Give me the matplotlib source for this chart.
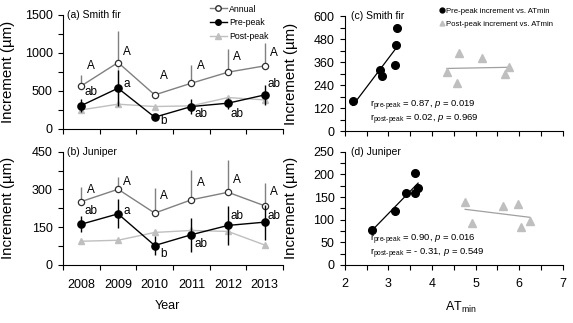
import matplotlib
matplotlib.use("Agg")
import matplotlib.pyplot as plt
from matplotlib.ticker import MultipleLocator, FixedLocator, NullFormatter
import numpy as np

plt.rcParams["font.family"] = ["Liberation Sans", "DejaVu Sans"]
plt.rcParams["mathtext.fontset"] = "custom"
plt.rcParams["mathtext.rm"] = "Liberation Sans"
plt.rcParams["mathtext.it"] = "Liberation Sans:italic"

# ── data ──────────────────────────────────────────────────────────────────────
years = ["2008", "2009", "2010", "2011", "2012", "2013"]

# (a) Smith fir
fir_annual = [566, 873, 447, 601, 746, 829]
fir_annual_up = [144, 421, 20, 241, 302, 307]
fir_pre = [307, 535, 154, 294, 338, 447]
fir_pre_err = [90, 240, 30, 100, 70, 130]
fir_post = [250, 325, 294, 303, 412, 381]
fir_post_up = [0, 540, 0, 0, 0, 0]
fir_annual_letters = ["A", "A", "A", "A", "A", "A"]
fir_annual_letter_y = [829, 1013, 697, 829, 947, 1000]
fir_pre_letters = ["ab", "a", "b", "ab", "ab", "ab"]
fir_pre_letter_y = [487, 592, 105, 197, 197, 592]

# (b) Juniper
jun_annual = [252, 301, 206, 259, 289, 235]
jun_annual_up = [57, 50, 99, 118, 128, 92]
jun_pre = [162, 203, 77, 120, 157, 170]
jun_pre_err = [33, 58, 37, 68, 78, 70]
jun_post = [94, 98, 129, 137, 133, 79]
jun_post_up = [0, 0, 0, 0, 0, 0]
jun_annual_letters = ["A", "A", "A", "A", "A", "A"]
jun_annual_letter_y = [297, 328, 273, 324, 336, 289]
jun_pre_letters = ["ab", "a", "b", "ab", "ab", "ab"]
jun_pre_letter_y = [214, 214, 44, 83, 194, 194]

# (c) Smith fir vs ATmin
fir_pre_at = [2.18, 2.80, 2.85, 3.15, 3.18, 3.20]
fir_pre_inc = [155, 317, 290, 344, 448, 537]
fir_post_at = [4.34, 4.62, 4.58, 5.14, 5.67, 5.76]
fir_post_inc = [307, 408, 251, 382, 297, 335]

# (d) Juniper vs ATmin
jun_pre_at = [2.61, 3.15, 3.41, 3.62, 3.62, 3.68]
jun_pre_inc = [77, 120, 160, 203, 159, 169]
jun_post_at = [4.76, 4.92, 5.64, 5.98, 6.05, 6.25]
jun_post_inc = [139, 93, 130, 135, 83, 97]

C_ANN = "#808080"
C_POST = "#bfbfbf"

fig = plt.figure(figsize=(5.73, 3.23), dpi=100)
ax_a = fig.add_axes([0.110, 0.601, 0.384, 0.353])
ax_b = fig.add_axes([0.110, 0.180, 0.384, 0.350])
ax_c = fig.add_axes([0.602, 0.594, 0.380, 0.356])
ax_d = fig.add_axes([0.602, 0.180, 0.380, 0.350])


def style(ax):
    for s in ["top", "right"]:
        ax.spines[s].set_visible(False)
    for s in ["left", "bottom"]:
        ax.spines[s].set_linewidth(0.8)
    ax.tick_params(which="both", direction="out", length=3.5, width=0.8,
                   labelsize=9)
    ax.tick_params(axis="y", which="both", pad=4)


def time_panel(ax, ann, ann_up, pre, pre_err, post, post_up,
               a_lab, a_y, p_lab, p_y, ymax, ystep, title, labels):
    x = np.arange(len(years)) + 0.5
    ax.errorbar(x, post, yerr=[np.zeros(len(x)), post_up], color=C_POST,
                lw=1, marker="^", ms=4.5, mec=C_POST, capsize=0,
                elinewidth=1, zorder=2)
    ax.errorbar(x, ann, yerr=[np.zeros(len(x)), ann_up], color=C_ANN,
                lw=1, marker="o", ms=4.5, mfc="white", mec="#303030",
                mew=0.9, capsize=0, elinewidth=1, ecolor=C_ANN, zorder=3)
    ax.errorbar(x, pre, yerr=pre_err, color="black", lw=1, marker="o",
                ms=5.2, capsize=0, elinewidth=1, zorder=4)
    for xi, t, yy in zip(x, a_lab, a_y):
        ax.text(xi + 0.25, yy, t, fontsize=8.5, ha="center", va="center")
    for xi, t, yy in zip(x, p_lab, p_y):
        ax.text(xi + 0.25, yy, t, fontsize=8.5, ha="center", va="center")
    ax.set_xlim(0, 6)
    ax.set_ylim(0, ymax)
    ax.yaxis.set_major_locator(MultipleLocator(ystep))
    ax.yaxis.set_minor_locator(MultipleLocator(ystep / 2))
    ax.xaxis.set_major_locator(FixedLocator(x))
    ax.xaxis.set_minor_locator(MultipleLocator(1))
    ax.tick_params(axis="x", which="major", length=0, pad=10)
    if labels:
        ax.set_xticklabels(years)
    else:
        ax.xaxis.set_major_formatter(NullFormatter())
    ax.text(0.02, 1.0, title, transform=ax.transAxes, fontsize=7.5,
            ha="left", va="center")
    ax.set_ylabel("Increment (µm)", fontsize=10.8)
    ax.yaxis.set_label_coords(-0.218, 0.5)


def scatter_panel(ax, pre_x, pre_y, post_x, post_y, ymax, ystep, title,
                  txt1, txt2, ty, labels):
    ax.plot(pre_x, pre_y, "o", color="black", ms=5.5, zorder=4)
    ax.plot(post_x, post_y, "^", color=C_POST, ms=6, zorder=3)
    for xs, ys, c in [(pre_x, pre_y, "black"), (post_x, post_y, "#a0a0a0")]:
        k, b = np.polyfit(xs, ys, 1)
        xx = np.array([min(xs), max(xs)])
        ax.plot(xx, k * xx + b, color=c, lw=0.9, zorder=2)
    ax.set_xlim(2, 7)
    ax.set_ylim(0, ymax)
    ax.xaxis.set_major_locator(MultipleLocator(1))
    ax.xaxis.set_minor_locator(MultipleLocator(0.5))
    ax.yaxis.set_major_locator(MultipleLocator(ystep))
    ax.yaxis.set_minor_locator(MultipleLocator(ystep / 2))
    ax.tick_params(axis="x", which="major", pad=6)
    if not labels:
        ax.xaxis.set_major_formatter(NullFormatter())
    ax.text(0.03, 1.0, title, transform=ax.transAxes, fontsize=7.5,
            ha="left", va="center")
    ax.text(0.115, ty, txt1, transform=ax.transAxes, fontsize=6.8,
            ha="left", va="center")
    ax.text(0.115, ty - 0.12, txt2, transform=ax.transAxes, fontsize=6.8,
            ha="left", va="center")
    ax.set_ylabel("Increment (µm)", fontsize=10.8)
    ax.yaxis.set_label_coords(-0.216, 0.5)


for ax in (ax_a, ax_b, ax_c, ax_d):
    style(ax)

time_panel(ax_a, fir_annual, fir_annual_up, fir_pre, fir_pre_err, fir_post,
           fir_post_up, fir_annual_letters, fir_annual_letter_y,
           fir_pre_letters, fir_pre_letter_y, 1500, 500, "(a) Smith fir", False)
time_panel(ax_b, jun_annual, jun_annual_up, jun_pre, jun_pre_err, jun_post,
           jun_post_up, jun_annual_letters, jun_annual_letter_y,
           jun_pre_letters, jun_pre_letter_y, 450, 150, "(b) Juniper", True)

PRE = r"$\rm r_{pre\text{-}peak}$"
POST = r"$\rm r_{post\text{-}peak}$"
scatter_panel(ax_c, fir_pre_at, fir_pre_inc, fir_post_at, fir_post_inc,
              600, 120, "(c) Smith fir",
              PRE + " = 0.87, $p$ = 0.019", POST + " = 0.02, $p$ = 0.969",
              0.22, False)
scatter_panel(ax_d, jun_pre_at, jun_pre_inc, jun_post_at, jun_post_inc,
              250, 50, "(d) Juniper",
              PRE + " = 0.90, $p$ = 0.016", POST + " = - 0.31, $p$ = 0.549",
              0.22, True)

# legends
h_ann = plt.Line2D([], [], color=C_ANN, lw=1, marker="o", ms=4, mfc="white",
                   mec="#303030")
h_pre = plt.Line2D([], [], color="black", lw=1, marker="o", ms=4)
h_post = plt.Line2D([], [], color=C_POST, lw=1, marker="^", ms=4)
fig.legend([h_ann, h_pre, h_post], ["Annual", "Pre-peak", "Post-peak"],
           loc="upper left", bbox_to_anchor=(0.355, 1.005), frameon=False,
           fontsize=6.3, handlelength=2.0, handletextpad=0.2,
           labelspacing=0.55, borderpad=0.2)

h_spre = plt.Line2D([], [], color="black", lw=0, marker="o", ms=3.5)
h_spost = plt.Line2D([], [], color=C_POST, lw=0, marker="^", ms=3.5)
fig.legend([h_spre, h_spost],
           ["Pre-peak increment vs. ATmin", "Post-peak increment vs. ATmin"],
           loc="upper left", bbox_to_anchor=(0.758, 0.995), frameon=False,
           fontsize=5.6, handlelength=0.6, handletextpad=0.2,
           labelspacing=0.75, borderpad=0.2)

fig.text(167 / 573, 1 - 306 / 323, "Year", fontsize=9, ha="center",
         va="center")
fig.text(461 / 573, 1 - 307 / 323, r"AT$_{\rm min}$", fontsize=9,
         ha="center", va="center")

fig.savefig("out.png", dpi=100)
